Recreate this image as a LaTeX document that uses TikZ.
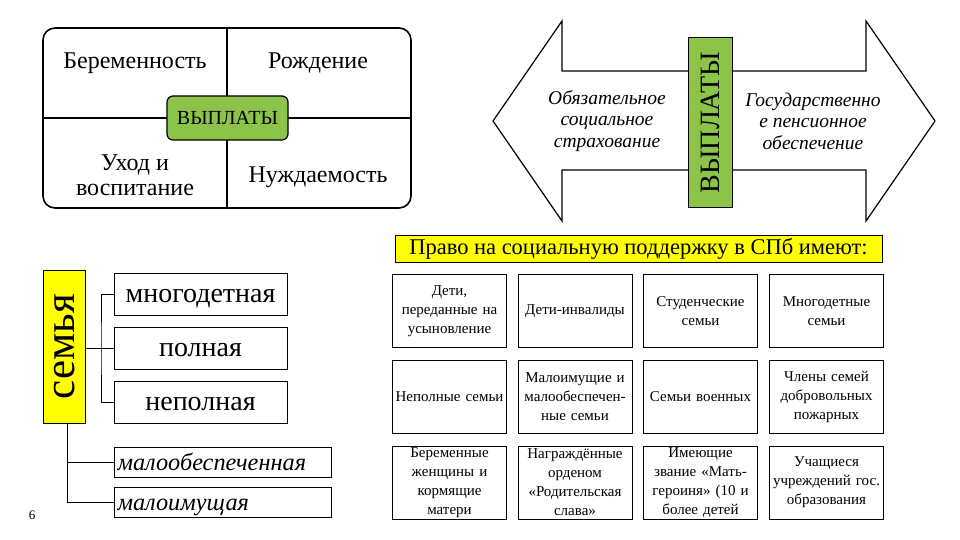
\documentclass[tikz,border=0pt]{standalone}
\usepackage{fontspec}
\setmainfont{Liberation Serif}
\begin{document}
\begin{tikzpicture}[x=1pt,y=-1pt,
  cell/.style={draw, line width=1pt, minimum width=114pt, minimum height=73pt, text width=112pt, align=center, inner sep=1pt, font=\fontsize{15}{19}\selectfont},
  lbl/.style={inner sep=0pt, align=center, font=\fontsize{24}{25}\selectfont},
  ital/.style={inner sep=0pt, align=center, font=\fontsize{19.5}{21.5}\selectfont\itshape},
  famb/.style={draw, line width=1pt, minimum width=173pt, minimum height=42pt, font=\fontsize{28}{30}\selectfont, inner sep=0pt, text height=16pt, text depth=0pt},
  famib/.style={draw, line width=1pt, minimum width=217pt, minimum height=30pt, font=\fontsize{24.3}{26}\selectfont\itshape, inner xsep=3pt, inner ysep=0pt, anchor=west, text width=211pt, align=left, text height=16pt, text depth=0pt},
  conn/.style={line width=1pt}]
\useasboundingbox (0,0) rectangle (960,540);
\definecolor{grn}{RGB}{140,196,74}
\definecolor{yel}{RGB}{255,255,0}
% top-left block
\node[draw, line width=1.6pt, rounded corners=12pt, minimum width=368pt, minimum height=180pt, inner sep=0pt] (blk) at (227,118) {};
\coordinate (vt) at (227,28); \coordinate (vb) at (227,208);
\coordinate (hl) at (43,118); \coordinate (hr) at (411,118);
\draw[line width=1.5pt] (vt) -- (vb);
\draw[line width=1.5pt] (hl) -- (hr);
\node[draw, line width=1.2pt, fill=grn, rounded corners=6pt, minimum width=121pt, minimum height=44pt, inner sep=0pt, font=\fontsize{20}{22}\selectfont] (pay1) at (227.5,118) {ВЫПЛАТЫ};
\node[lbl] (t1) at (135,63) {Беременность};
\node[lbl] (t2) at (318,63) {Рождение};
\node[lbl] (t3) at (135,175) {Уход и\\воспитание};
\node[lbl] (t4) at (318,177) {Нуждаемость};
% double arrow
\draw[line width=1.2pt, fill=white] (493,121) -- (562,21) -- (562,71) -- (866,71) -- (866,21) -- (935,121) -- (866,221) -- (866,170) -- (562,170) -- (562,221) -- cycle;
\node[draw, line width=1pt, fill=grn, minimum width=44pt, minimum height=169pt, inner sep=0pt] (pay2) at (710,122.5) {};
\node[inner sep=0pt, rotate=90, font=\fontsize{28}{30}\selectfont] (pay2t) at (pay2.center) {ВЫПЛАТЫ};
\node[ital] (osn) at (607,121) {Обязательное\\социальное\\страхование};
\node[ital] (gpo) at (813,121) {Государственно\\е пенсионное\\обеспечение};
% banner
\node[draw, line width=1pt, fill=yel, minimum width=487pt, minimum height=27pt, inner sep=0pt, font=\fontsize{22.5}{25}\selectfont] (ban) at (638.5,248.5) {Право на социальную поддержку в СПб имеют:};
% grid
\node[cell] (c11) at (449.5,311) {Дети,\\переданные на\\усыновление};
\node[cell] (c12) at (575,311) {Дети-инвалиды};
\node[cell] (c13) at (700.5,311) {Студенческие\\семьи};
\node[cell] (c14) at (826.5,311) {Многодетные\\семьи};
\node[cell] (c21) at (449.5,396.5) {Неполные семьи};
\node[cell] (c22) at (575,396.5) {Малоимущие и\\малообеспечен-\\ные семьи};
\node[cell] (c23) at (700.5,396.5) {Семьи военных};
\node[cell] (c24) at (826.5,396.5) {Члены семей\\добровольных\\пожарных};
\node[cell] (c31) at (449.5,482.5) {Беременные\\женщины и\\кормящие\\матери};
\node[cell] (c32) at (575,482.5) {Награждённые\\орденом\\«Родительская\\слава»};
\node[cell] (c33) at (700.5,482.5) {Имеющие\\звание «Мать-\\героиня» (10 и\\более детей};
\node[cell] (c34) at (826.5,482.5) {Учащиеся\\учреждений гос.\\образования};
% family
\node[draw, line width=1pt, fill=yel, minimum width=42pt, minimum height=153pt, inner sep=0pt] (fam) at (64,346.5) {};
\node[inner sep=0pt, rotate=90, font=\fontsize{43}{46}\selectfont] (famt) at (65,346.5) {семья};
\node[famb] (f1) at (200.5,294) {многодетная};
\node[famb] (f2) at (200.5,348) {полная};
\node[famb] (f3) at (200.5,402) {неполная};
\node[famib] (f4) at (114,462) {малообеспеченная};
\node[famib] (f5) at (114,502) {малоимущая};
\coordinate (br) at (101,348);
\coordinate (dn) at (67,502);
\draw[conn] (fam.east |- f2.west) -- (f2.west);
\draw[conn] (f1.west) -| (br) |- (f3.west);
\draw[conn] (fam.south -| dn) -- (dn) -- (f5.west);
\draw[conn] (fam.south -| dn) |- (f4.west);
\node[inner sep=0pt, font=\fontsize{13}{15}\selectfont] (pg) at (32,515) {6};
\end{tikzpicture}
\end{document}
